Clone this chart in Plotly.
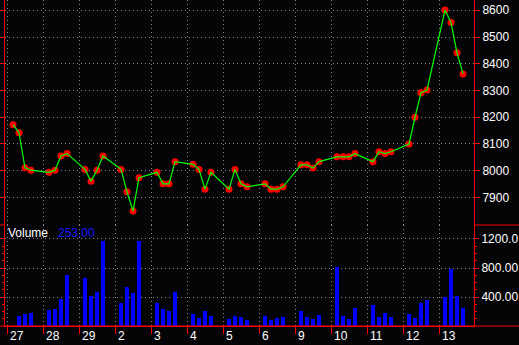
import plotly.graph_objects as go

# ---- data ----
days = ["27", "28", "29", "2", "3", "4", "5", "6", "9", "10", "11", "12", "13"]
sessions = [1, 2, 3, 4]  # intraday sessions within each day
price = [
    [8172, 8142, 8011, 8002],
    [7994, 8002, 8055, 8064],
    [8005, 7961, 8002, 8055],
    [8005, 7921, 7849, 7974],
    [7994, 7951, 7951, 8034],
    [8024, 8005, 7931, 7994],
    [7931, 8005, 7951, 7940],
    [7951, 7931, 7931, 7940],
    [8022, 8022, 8010, 8034],
    [8052, 8052, 8052, 8064],
    [8034, 8071, 8064, 8071],
    [8100, 8200, 8292, 8302],
    [8601, 8554, 8441, 8362],
]
volume = [
    [None, 138, 166, 179],
    [225, 234, 372, 703],
    [667, 414, 474, 1172],
    [317, 543, 460, 1172],
    [317, 239, 211, 474],
    [166, 115, 211, 138],
    [101, 138, 124, 87],
    [138, 87, 115, 124],
    [211, 124, 97, 152],
    [818, 138, 97, 253],
    [290, 124, 179, 124],
    [166, 115, 317, 359],
    [400, 786, 414, 253],
]
price_ticks = [7900, 8000, 8100, 8200, 8300, 8400, 8500, 8600]
vol_ticks = [400, 800, 1200]
vol_ticktext = ["400.00", "800.00", "1200.0"]
vol_minor = [100, 200, 300, 500, 600, 700, 900, 1000, 1100]
last_volume = "253.00"

SLOTS = 6  # slots per day on the compressed time axis
xs, ps, vs = [], [], []
for i, d in enumerate(days):
    for j, s in enumerate(sessions):
        xs.append(i * SLOTS + s)
        ps.append(price[i][j])
        vs.append(volume[i][j])
day_pos = [i * SLOTS for i in range(len(days))]

RED = "#ff0000"
GRID = "#8a8a8a"
BG = "#050507"
FONT = "Liberation Sans"

fig = go.Figure()
fig.add_trace(go.Bar(x=xs, y=vs, xaxis="x", yaxis="y2", width=0.66,
                     marker=dict(color="#0000ff", line=dict(width=0))))
fig.add_trace(go.Scatter(x=xs, y=ps, xaxis="x", yaxis="y", mode="markers",
                         marker=dict(color=RED, size=7, line=dict(width=0))))
fig.add_trace(go.Scatter(x=xs, y=ps, xaxis="x", yaxis="y", mode="lines",
                         line=dict(color="#00ff00", width=1.2)))

split = (326 - 225) / 326

fig.update_layout(
    width=519, height=345,
    margin=dict(l=5, r=45, t=0, b=19),
    paper_bgcolor=BG, plot_bgcolor=BG,
    showlegend=False,
    bargap=0,
    font=dict(family=FONT, size=12, color="#ffffff"),
    xaxis=dict(
        domain=[0, 1], anchor="y2", range=[-1/3, 77.833],
        tickmode="array", tickvals=day_pos, showticklabels=False,
        ticks="outside", ticklen=7, tickcolor=RED, tickwidth=1,
        showline=True, linecolor=RED, linewidth=1,
        showgrid=True, gridcolor=GRID, gridwidth=1, griddash="1px,3px",
        zeroline=False,
    ),
    yaxis=dict(
        domain=[split, 1], anchor="x", side="right",
        range=[7797, 8638.5],
        tickmode="array", tickvals=price_ticks,
        ticks="outside", ticklen=5, tickcolor=RED, tickwidth=1,
        showline=True, linecolor=RED, linewidth=1, mirror="ticks",
        showgrid=True, gridcolor=GRID, gridwidth=1, griddash="1px,3px",
        zeroline=False,
        tickfont=dict(family=FONT, size=12, color="#ffffff"),
    ),
    yaxis2=dict(
        domain=[0, split], anchor="x", side="right",
        range=[0, 1393],
        tickmode="array", tickvals=vol_ticks, ticktext=vol_ticktext,
        ticks="outside", ticklen=4, tickcolor=RED, tickwidth=1,
        minor=dict(tickmode="array", tickvals=vol_minor, ticks="outside",
                   ticklen=2, tickcolor=RED, showgrid=False),
        showline=True, linecolor=RED, linewidth=1, mirror="ticks",
        showgrid=True, gridcolor=GRID, gridwidth=1, griddash="1px,3px",
        zeroline=False,
        tickfont=dict(family=FONT, size=12, color="#ffffff"),
    ),
)

# pane separator and axis extensions
fig.add_shape(type="line", xref="paper", yref="paper", x0=1, x1=1.1, y0=split, y1=split,
              line=dict(color=RED, width=1))
fig.add_shape(type="line", xref="paper", yref="paper", x0=-0.011, x1=0, y0=split, y1=split,
              line=dict(color=RED, width=1))
fig.add_shape(type="line", xref="paper", yref="paper", x0=-0.011, x1=1.1, y0=0, y1=0,
              line=dict(color=RED, width=1))

# day labels, left-aligned next to their ticks
for d, p in zip(days, day_pos):
    fig.add_annotation(x=p, y=-10 / 326, xref="x", yref="paper", text=d,
                       xanchor="left", yanchor="middle", xshift=2, showarrow=False,
                       borderpad=0, font=dict(family=FONT, size=12, color="#ffffff"))

fig.add_annotation(x=2 / 469, y=(326 - 233) / 326, xref="paper", yref="paper", text="Volume",
                   xanchor="left", yanchor="middle", showarrow=False, borderpad=0,
                   font=dict(family=FONT, size=12, color="#ffffff"))
fig.add_annotation(x=51.5 / 469, y=(326 - 233) / 326, xref="paper", yref="paper", text=last_volume,
                   xanchor="left", yanchor="middle", showarrow=False, borderpad=0,
                   font=dict(family=FONT, size=12, color="#1414ff"))

fig.write_html("out.html")
